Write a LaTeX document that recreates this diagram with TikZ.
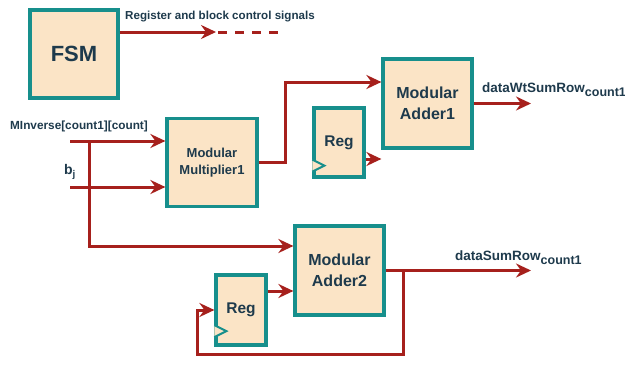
\documentclass[tikz,border=0pt]{standalone}
\usepackage{fontspec}
\setmainfont{Liberation Sans}
\usetikzlibrary{arrows.meta,calc}
\definecolor{boxfill}{HTML}{FBE4C6}
\definecolor{boxline}{HTML}{178F8C}
\definecolor{wire}{HTML}{A6201C}
\definecolor{ink}{HTML}{1E3A4C}
\tikzset{
  block/.style={draw=boxline, fill=boxfill, line width=3.2pt, text=ink,
    font=\bfseries, align=center, inner sep=0pt},
  sig/.style={draw=wire, line width=3pt, -{Stealth[length=15pt,width=14pt,inset=5pt]}},
  wireonly/.style={draw=wire, line width=3pt},
  lbl/.style={text=ink, font=\bfseries, inner sep=0pt},
  clk/.style={draw=boxline, fill=boxfill, line width=2pt, line join=miter}
}
\newcommand{\lowsub}[1]{{\fontsize{12.5}{13}\selectfont\raisebox{-4pt}{#1}}}
\begin{document}
\begin{tikzpicture}[x=1pt,y=-1pt]
\useasboundingbox (0,0) rectangle (625,365);

% blocks
\node[block, minimum width=88pt, minimum height=88pt, font=\bfseries\fontsize{22}{24}\selectfont] (fsm) at (74,54) {FSM};
\node[block, minimum width=90pt, minimum height=88pt, font=\bfseries\fontsize{13}{17}\selectfont] (mul) at (212,162.5) {Modular\\Multiplier1};
\node[block, minimum width=89pt, minimum height=89pt, font=\bfseries\fontsize{16}{21}\selectfont] (add1) at (427.5,103.5) {Modular\\Adder1};
\node[block, minimum width=50pt, minimum height=69pt, font=\bfseries\fontsize{15.5}{18}\selectfont] (reg1) at (339,142.5) {Reg};
\node[block, minimum width=89pt, minimum height=89pt, font=\bfseries\fontsize{16}{21}\selectfont] (add2) at (339.5,270.5) {Modular\\Adder2};
\node[block, minimum width=50pt, minimum height=70pt, font=\bfseries\fontsize{15.5}{18}\selectfont] (reg2) at (241,310) {Reg};

% clock marks on the registers
\draw[clk] ($(reg1.south west)+(0,-19)$) -- ++(12,6) -- ++(-12,6);
\draw[clk] ($(reg2.south west)+(0,-21.5)$) -- ++(12,6) -- ++(-12,6);

% FSM control output
\coordinate (fsmout) at ([yshift=22pt]fsm.east);
\coordinate (ctltip) at (216,32);
\coordinate (ctlend) at (281,32);
\draw[sig] (fsmout) -- (ctltip);
\draw[wireonly, dash pattern=on 9pt off 8pt] ($(ctltip)+(2,0)$) -- (ctlend);
\node[lbl, font=\bfseries\fontsize{11.6}{13}\selectfont] (ctllbl) at (220,17) {Register and block control signals};

% inputs
\coordinate (inM) at (70,141);
\coordinate (inB) at (70,187);
\coordinate (br) at (89,141);
\draw[sig] (inM) -- (inM -| mul.west);
\draw[sig] (inB) -- (inB -| mul.west);
\node[lbl, font=\bfseries\fontsize{11.8}{13}\selectfont] (mlbl) at (79,126) {MInverse[count1][count]};
\node[lbl, font=\bfseries\fontsize{14}{15}\selectfont] (blbl) at (70,172) {b\textsubscript{j}};

% multiplier -> adder1
\coordinate (j1) at (285,0);
\coordinate (a1in) at ([yshift=21.5pt]add1.west);
\draw[sig] (mul.east) -- (mul.east -| j1) |- (a1in);
\coordinate (r1out) at ([yshift=-16.5pt]reg1.east);
\draw[sig] (r1out) -- (r1out -| add1.west);

% adder1 output
\coordinate (o1) at (531,103.5);
\draw[sig] (add1.east) -- (o1);
\node[lbl, anchor=base west, font=\bfseries\fontsize{13.5}{14}\selectfont] (o1lbl) at (482,92) {dataWtSumRow\lowsub{count1}};

% branch to adder2
\coordinate (a2in) at ([yshift=24.5pt]add2.west);
\draw[sig] (br) |- (a2in);
\coordinate (r2out) at ([yshift=19pt]reg2.east);
\draw[sig] (r2out) -- (r2out -| add2.west);

% adder2 output and feedback
\coordinate (o2) at (531,270.5);
\coordinate (fb) at (403,270.5);
\coordinate (fbl) at (197,354);
\draw[sig] (add2.east) -- (o2);
\draw[sig] (fb) |- (fbl) |- (reg2.west);
\node[lbl, anchor=base west, font=\bfseries\fontsize{13.5}{14}\selectfont] (o2lbl) at (455,260) {dataSumRow\lowsub{count1}};
\end{tikzpicture}
\end{document}
